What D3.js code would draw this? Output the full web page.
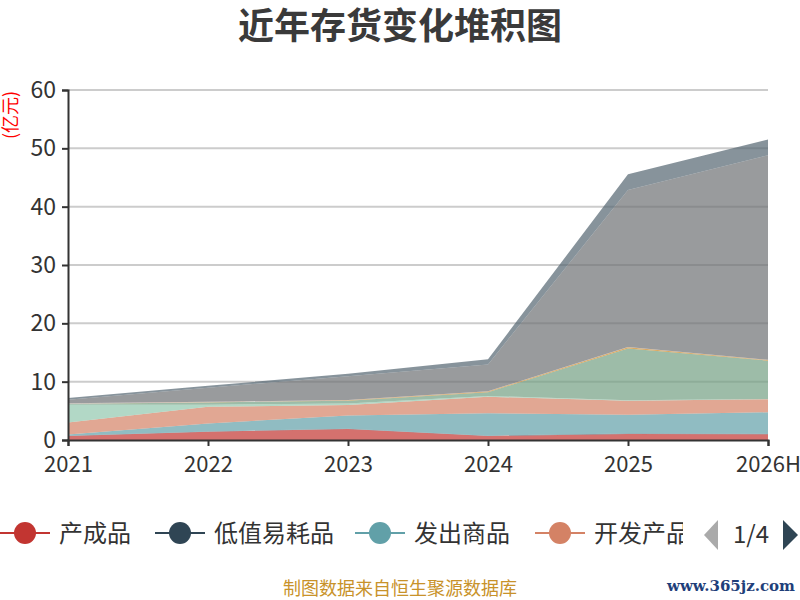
<!DOCTYPE html>
<html>
<head>
<meta charset="utf-8">
<script src="https://cdn.jsdelivr.net/npm/d3@7"></script>
<style>
  body { margin: 0; background: #fff; }
  svg { font-family: "Noto Sans CJK SC", "Noto Sans", sans-serif; }
</style>
</head>
<body>
<svg id="chart" width="800" height="600"></svg>
<script>
// categories on the x axis
var years = ["2021", "2022", "2023", "2024", "2025", "2026H"];

// series names, in legend order
var seriesNames = ["产成品", "低值易耗品", "发出商品", "开发产品", "开发成本", "库存商品",
    "委托加工物资", "消耗性生物资产", "原材料", "在产品", "周转材料", "自制半成品", "其他"];

// values per series (亿元)
var chanchengpin   = [0.7, 1.4, 1.9, 0.7, 1.05, 1.0];
var dizhiyihao     = [0.05, 0.05, 0.05, 0.05, 0.05, 0.05];
var fachushangpin  = [0.2, 1.4, 2.25, 3.85, 3.25, 3.7];
var kaifachanpin   = [2.05, 2.85, 1.8, 2.8, 2.4, 2.25];
var kaifachengben  = [3.05, 0.35, 0.25, 0.15, 0.05, 0.05];
var kucunshangpin  = [0.15, 0.4, 0.5, 0.65, 8.9, 6.55];
var weituojiagong  = [0.02, 0.02, 0.05, 0.1, 0.2, 0.1];
var xiaohaoxing    = [0.08, 0.08, 0.05, 0.05, 0.05, 0.05];
var yuancailiao    = [0.6, 2.4, 4.1, 4.6, 26.9, 35.05];
var zaichanpin     = [0.3, 0.35, 0.4, 0.9, 2.7, 2.7];
var zhouzhuan      = [0, 0, 0, 0, 0, 0];
var zizhi          = [0, 0, 0, 0, 0, 0];
var qita           = [0, 0, 0, 0, 0, 0];

var seriesValues = [chanchengpin, dizhiyihao, fachushangpin, kaifachanpin, kaifachengben,
    kucunshangpin, weituojiagong, xiaohaoxing, yuancailiao, zaichanpin, zhouzhuan, zizhi, qita];

var yTicks = [0, 10, 20, 30, 40, 50, 60];

var palette = ["#c23531", "#2f4554", "#61a0a8", "#d48265", "#91c7ae", "#749f83",
    "#ca8622", "#bda29a", "#6e7074", "#546570", "#c4ccd3"];

var svg = d3.select("#chart");

// title
svg.append("text")
    .attr("x", 400)
    .attr("y", 39)
    .attr("text-anchor", "middle")
    .style("font-size", "36px")
    .style("font-weight", "bold")
    .style("fill", "#3a3a3a")
    .text("近年存货变化堆积图");

var plotLeft = 68, plotRight = 768, plotTop = 90, plotBottom = 440;

var x = d3.scalePoint().domain(years).range([plotLeft, plotRight]);
var y = d3.scaleLinear().domain([0, 60]).range([plotBottom, plotTop]);

// build rows for the stack
var table = years.map(function(yr, i) {
    var row = { year: yr };
    seriesNames.forEach(function(name, k) { row[name] = seriesValues[k][i]; });
    return row;
});
var stacked = d3.stack().keys(seriesNames)(table);

// grid lines
svg.append("g").selectAll("line")
    .data(yTicks.slice(1))
    .enter()
    .append("line")
    .attr("x1", plotLeft)
    .attr("x2", plotRight)
    .attr("y1", function(d) { return y(d); })
    .attr("y2", function(d) { return y(d); })
    .style("stroke", "#cccccc")
    .style("stroke-width", 2);

// stacked areas
var area = d3.area()
    .x(function(d) { return x(d.data.year); })
    .y0(function(d) { return y(d[0]); })
    .y1(function(d) { return y(d[1]); });

svg.append("g").selectAll("path")
    .data(stacked)
    .enter()
    .append("path")
    .attr("d", area)
    .style("fill", function(d, i) { return palette[i % palette.length]; })
    .style("fill-opacity", 0.7);

// y axis
var yAxis = svg.append("g")
    .attr("transform", "translate(" + plotLeft + ",0)")
    .call(d3.axisLeft(y).tickValues(yTicks).tickSize(6).tickPadding(6));
yAxis.select(".domain").style("stroke", "#333").style("stroke-width", 2);
yAxis.selectAll(".tick line").style("stroke", "#333").style("stroke-width", 2);
yAxis.selectAll(".tick text")
    .style("font-size", "23px")
    .style("fill", "#333")
    .style("font-family", "\"Noto Sans CJK SC\", sans-serif");

// y unit label
svg.append("text")
    .attr("transform", "translate(17,115) rotate(-90)")
    .attr("text-anchor", "middle")
    .style("font-size", "18px")
    .style("fill", "#ff0000")
    .text("(亿元)");

// x axis
var xAxis = svg.append("g")
    .attr("transform", "translate(0," + plotBottom + ")")
    .call(d3.axisBottom(x).tickSize(6).tickPadding(10));
xAxis.select(".domain").style("stroke", "#333").style("stroke-width", 2);
xAxis.selectAll(".tick line").style("stroke", "#333").style("stroke-width", 2);
xAxis.selectAll(".tick text")
    .style("font-size", "22px")
    .style("fill", "#333")
    .style("font-family", "\"Noto Sans CJK SC\", sans-serif");

// legend (first page of four per page)
var perPage = 4;
var legendX = [0, 155, 355, 535];
var legend = svg.append("g");
var legendItems = legend.selectAll("g")
    .data(seriesNames.slice(0, perPage))
    .enter()
    .append("g")
    .attr("transform", function(d, i) { return "translate(" + legendX[i] + ",533)"; });

legendItems.append("line")
    .attr("x1", 0).attr("x2", 50)
    .attr("y1", 0).attr("y2", 0)
    .style("stroke", function(d, i) { return palette[i]; })
    .style("stroke-width", 2);
legendItems.append("circle")
    .attr("cx", 25).attr("cy", 0).attr("r", 11)
    .style("fill", function(d, i) { return palette[i]; });
legendItems.append("text")
    .attr("x", 59)
    .attr("y", 9)
    .style("font-size", "24px")
    .style("fill", "#333")
    .text(function(d) { return d; });

// clip legend text before the pager
svg.append("rect")
    .attr("x", 683).attr("y", 505).attr("width", 117).attr("height", 60)
    .style("fill", "#fff");

// pager
svg.append("path")
    .attr("d", "M718,520 L704,535 L718,550 Z")
    .style("fill", "#aaaaaa");
svg.append("text")
    .attr("x", 751)
    .attr("y", 543)
    .attr("text-anchor", "middle")
    .style("font-size", "24px")
    .style("fill", "#333")
    .text("1/" + Math.ceil(seriesNames.length / perPage));
svg.append("path")
    .attr("d", "M783,520 L798,535 L783,550 Z")
    .style("fill", "#2f4554");

// footer
svg.append("text")
    .attr("x", 400)
    .attr("y", 595)
    .attr("text-anchor", "middle")
    .style("font-size", "18px")
    .style("fill", "#c8922a")
    .text("制图数据来自恒生聚源数据库");

svg.append("text")
    .attr("x", 795)
    .attr("y", 591)
    .attr("text-anchor", "end")
    .style("font-size", "15px")
    .style("font-weight", "bold")
    .style("font-family", "\"DejaVu Serif\", serif")
    .style("fill", "#1f3f7a")
    .text("www.365jz.com");
</script>
</body>
</html>
